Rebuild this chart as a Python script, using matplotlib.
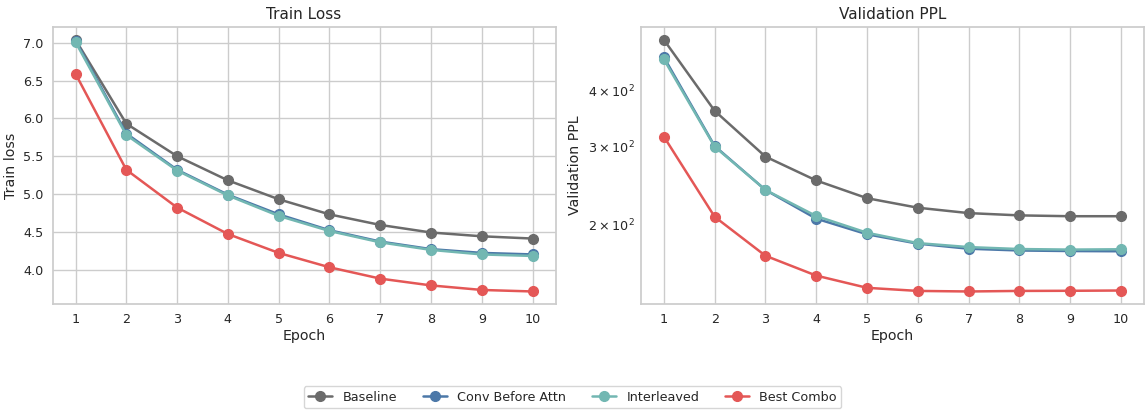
import matplotlib
matplotlib.use("Agg")
import matplotlib.pyplot as plt
import seaborn as sns

epochs = [1, 2, 3, 4, 5, 6, 7, 8, 9, 10]
labels = ["Baseline", "Conv Before Attn", "Interleaved", "Best Combo"]
colors = ["#6b6b6b", "#4c78a8", "#72b7b2", "#e45756"]

train_baseline = [7.04, 5.93, 5.50, 5.18, 4.93, 4.73, 4.59, 4.49, 4.44, 4.41]
train_conv = [7.03, 5.80, 5.32, 4.99, 4.73, 4.52, 4.37, 4.27, 4.22, 4.20]
train_inter = [7.01, 5.78, 5.31, 4.98, 4.71, 4.51, 4.36, 4.26, 4.20, 4.18]
train_best = [6.59, 5.32, 4.82, 4.47, 4.22, 4.03, 3.88, 3.79, 3.73, 3.71]

ppl_baseline = [520, 360, 284, 251, 229, 218, 212, 209.5, 208.6, 208.6]
ppl_conv = [475, 300, 239, 206, 190, 181, 176.3, 174.7, 174.2, 174.0]
ppl_inter = [470, 299, 239, 208.8, 191.5, 181.5, 177.8, 176, 175.5, 175.8]
ppl_best = [315, 208, 170, 153.4, 144, 141.7, 141.3, 141.7, 141.8, 142]

sns.set_theme(style="whitegrid")
plt.rcParams["font.family"] = ["DejaVu Sans"]

fig, (ax1, ax2) = plt.subplots(1, 2, figsize=(11.45, 4.12), dpi=100)
fig.subplots_adjust(left=0.046, right=0.999, top=0.934, bottom=0.262, wspace=0.17)

train = [train_baseline, train_conv, train_inter, train_best]
ppl = [ppl_baseline, ppl_conv, ppl_inter, ppl_best]

for ys, lab, c in zip(train, labels, colors):
    ax1.plot(epochs, ys, marker="o", color=c, label=lab, linewidth=1.8, markersize=7)
for ys, lab, c in zip(ppl, labels, colors):
    ax2.plot(epochs, ys, marker="o", color=c, label=lab, linewidth=1.8, markersize=7)

ax1.set_title("Train Loss", fontsize=11)
ax1.set_xlabel("Epoch", fontsize=10.2, labelpad=2)
ax1.set_ylabel("Train loss", fontsize=10.2)
ax1.set_xticks(epochs)

ax2.set_yscale("log")
ax2.set_title("Validation PPL", fontsize=11)
ax2.set_xlabel("Epoch", fontsize=10.2, labelpad=2)
ax2.set_ylabel("Validation PPL", fontsize=10.2)
ax2.set_xticks(epochs)

for ax in (ax1, ax2):
    ax.tick_params(which="both", labelsize=9.2)
    ax.tick_params(axis="y", which="both", pad=0.5)
    ax.tick_params(axis="x", which="both", pad=0.5)

handles, labs = ax1.get_legend_handles_labels()
fig.legend(handles, labs, loc="center", ncol=4, bbox_to_anchor=(0.5, 0.036),
           fontsize=9.2, frameon=True, borderpad=0.35, handlelength=1.9,
           columnspacing=2.0)

fig.savefig("out.png")
